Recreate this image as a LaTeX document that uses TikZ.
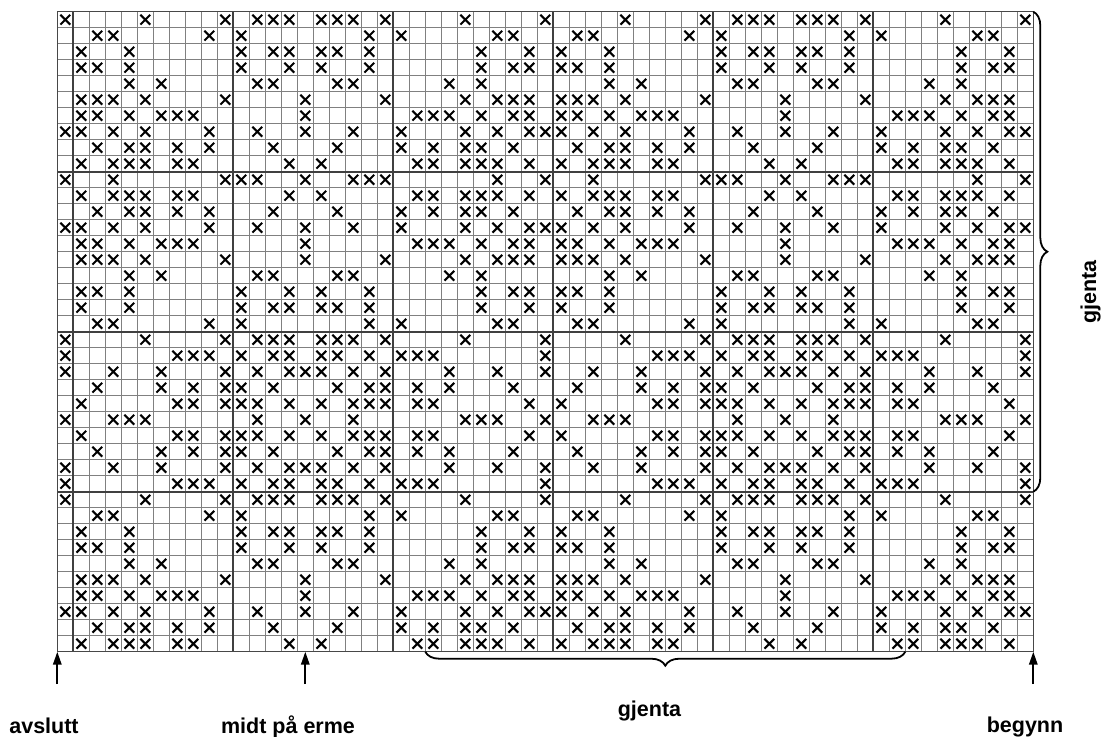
\documentclass[tikz,border=0pt]{standalone}
\usepackage{fontspec}
\setmainfont{Liberation Sans}
\usetikzlibrary{decorations.pathreplacing,arrows.meta}
\begin{document}
\begin{tikzpicture}[x=0.5pt,y=-0.5pt,
  thinline/.style={draw=black!50, line width=0.45pt},
  thickline/.style={draw=black!75, line width=1.1pt},
  border/.style={draw=black!72, line width=0.75pt},
  xmark/.style={draw=black, line width=1.05pt},
  lbl/.style={font=\fontsize{10.75}{13}\selectfont\bfseries, inner sep=0pt},
  uparrow/.style={draw=black, line width=1pt, -{Triangle[length=6.5pt,width=4.2pt]}},
  gbrace/.style={draw=black, decorate, decoration={brace, amplitude=7pt}, line width=0.9pt}]
\useasboundingbox (0,0) rectangle (1104,736);
\fill[white] (0,0) rectangle (1104,736);
% thin grid
\foreach \i in {0,...,61} \draw[thinline] ({57.3+16*\i},11.7) -- ({57.3+16*\i},651.7);
\foreach \j in {0,...,40} \draw[thinline] (57.3,{11.7+16*\j}) -- (1033.3,{11.7+16*\j});
% thick grid
\foreach \i in {0,...,5} \draw[thickline] ({73.3+160*\i},11.7) -- ({73.3+160*\i},651.7);
\foreach \j in {1,2,3} \draw[thickline] (57.3,{11.7+160*\j}) -- (1033.3,{11.7+160*\j});
\draw[border] (57.3,11.7) rectangle (1033.3,651.7);
% crosses (30-column repeat)
\foreach \r/\cols in {
 1/{1,6,11,13,14,15,17,18,19,21,26},
 2/{3,4,10,12,20,22,28,29},
 3/{2,5,12,14,15,17,18,20,27,30},
 4/{2,3,5,12,15,17,20,27,29,30},
 5/{5,7,13,14,18,19,25,27},
 6/{2,3,4,6,11,16,21,26,28,29,30},
 7/{2,3,5,7,8,9,16,23,24,25,27,29,30},
 8/{1,2,4,6,10,13,16,19,22,26,28,30},
 9/{3,5,6,8,10,14,18,22,24,26,27,29},
 10/{2,4,5,6,8,9,15,17,23,24,26,27,28,30},
 11/{1,4,11,12,13,16,19,20,21,28},
 12/{2,4,5,6,8,9,15,17,23,24,26,27,28,30},
 13/{3,5,6,8,10,14,18,22,24,26,27,29},
 14/{1,2,4,6,10,13,16,19,22,26,28,30},
 15/{2,3,5,7,8,9,16,23,24,25,27,29,30},
 16/{2,3,4,6,11,16,21,26,28,29,30},
 17/{5,7,13,14,18,19,25,27},
 18/{2,3,5,12,15,17,20,27,29,30},
 19/{2,5,12,14,15,17,18,20,27,30},
 20/{3,4,10,12,20,22,28,29},
 21/{1,6,11,13,14,15,17,18,19,21,26},
 22/{1,8,9,10,12,14,15,17,18,20,22,23,24},
 23/{1,4,7,11,13,15,16,17,19,21,25,28},
 24/{3,7,9,11,12,14,18,20,21,23,25,29},
 25/{2,8,9,11,12,13,15,17,19,20,21,23,24,30},
 26/{1,4,5,6,13,16,19,26,27,28},
 27/{2,8,9,11,12,13,15,17,19,20,21,23,24,30},
 28/{3,7,9,11,12,14,18,20,21,23,25,29},
 29/{1,4,7,11,13,15,16,17,19,21,25,28},
 30/{1,8,9,10,12,14,15,17,18,20,22,23,24},
 31/{1,6,11,13,14,15,17,18,19,21,26},
 32/{3,4,10,12,20,22,28,29},
 33/{2,5,12,14,15,17,18,20,27,30},
 34/{2,3,5,12,15,17,20,27,29,30},
 35/{5,7,13,14,18,19,25,27},
 36/{2,3,4,6,11,16,21,26,28,29,30},
 37/{2,3,5,7,8,9,16,23,24,25,27,29,30},
 38/{1,2,4,6,10,13,16,19,22,26,28,30},
 39/{3,5,6,8,10,14,18,22,24,26,27,29},
 40/{2,4,5,6,8,9,15,17,23,24,26,27,28,30}}{
  \foreach \c in \cols {
    \foreach \k in {0,30,60} {
      \pgfmathtruncatemacro\cc{\c+\k}
      \ifnum\cc<62
        \draw[xmark] ({57.3+16*\cc-12.9},{11.7+16*\r-12.9}) -- ++(9.8,9.8)
                     ++(0,-9.8) -- ++(-9.8,9.8);
      \fi
    }
  }
}
% braces
\coordinate (bR1) at (1033.3,11.7);
\coordinate (bR2) at (1033.3,491.7);
\coordinate (bB1) at (905.3,651.7);
\coordinate (bB2) at (425.3,651.7);
\draw[gbrace] (bR1) -- (bR2);
\draw[gbrace] (bB1) -- (bB2);
% labels
\node[lbl, anchor=base] (avs) at (44,733) {avslutt};
\node[lbl, anchor=base] (midt) at (288,733) {midt på erme};
\node[lbl, anchor=base] (beg) at (1025,732) {begynn};
\node[lbl, anchor=base] (gj1) at (649.5,716.7) {gjenta};
\node[lbl, anchor=base, rotate=90] (gj2) at (1096,291.7) {gjenta};
% arrows
\coordinate (aT1) at (57.3,684);   \coordinate (aH1) at (57.3,651.7);
\coordinate (aT2) at (305.3,684);  \coordinate (aH2) at (305.3,651.7);
\coordinate (aT3) at (1033.3,684); \coordinate (aH3) at (1033.3,651.7);
\draw[uparrow] (aT1) -- (aH1);
\draw[uparrow] (aT2) -- (aH2);
\draw[uparrow] (aT3) -- (aH3);
\end{tikzpicture}
\end{document}
